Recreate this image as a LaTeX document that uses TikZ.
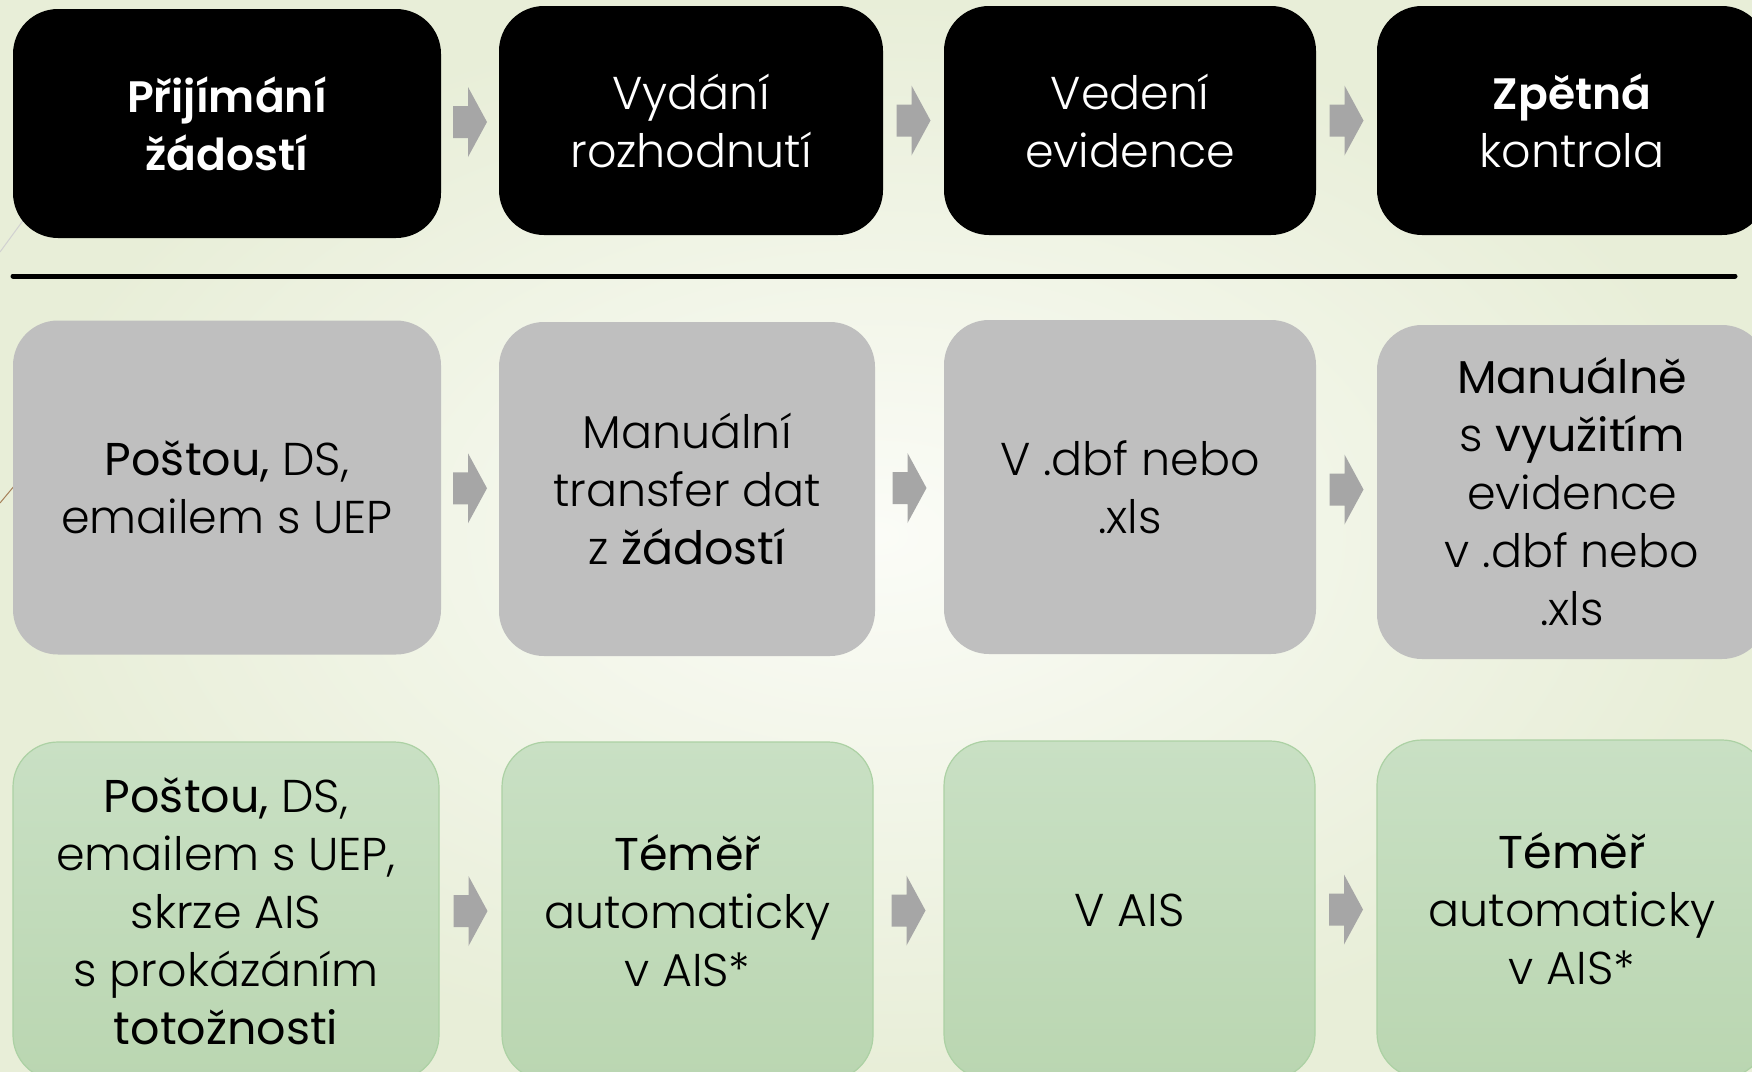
\documentclass[tikz,border=0pt]{standalone}
\usepackage{fontspec}
\setmainfont{Poppins}[UprightFont=* Light, BoldFont=* SemiBold]
\newfontfamily\altf{Poppins}
\usetikzlibrary{calc}
\definecolor{bgin}{HTML}{FBFCF7}
\definecolor{bgout}{HTML}{E8EED8}
\definecolor{boxgray}{HTML}{BFBFBF}
\definecolor{arrowgray}{HTML}{A6A6A6}
\definecolor{greentop}{HTML}{C9E0C4}
\definecolor{greenbot}{HTML}{BAD6B1}
\definecolor{greenline}{HTML}{ACD1A4}
\tikzset{
  box/.style={rounded corners=45pt, align=center, inner sep=0pt,
    font=\fontsize{46}{58}\selectfont},
  topbox/.style={box, fill=black, text=white, minimum height=229pt},
  graybox/.style={box, fill=boxgray, text=black, minimum height=334pt},
  greenbox/.style={box, top color=greentop, bottom color=greenbot,
    draw=greenline, line width=1.2pt, text=black, minimum height=338pt},
  divider/.style={line width=5pt, line cap=round, black},
  deco/.style={line width=1pt}
}
\newcommand{\boldw}[1]{{\fontsize{44}{58}\selectfont\bfseries #1}}
\newcommand{\flowarrow}[2]{%
  \path (#1.east) -- (#2.west) coordinate[pos=0.5] (m#1);
  \fill[arrowgray] ($(m#1)+(-17,-16)$) -- ($(m#1)+(-2,-16)$) -- ($(m#1)+(-2,-35)$)
    -- ($(m#1)+(17,0)$) -- ($(m#1)+(-2,35)$) -- ($(m#1)+(-2,16)$)
    -- ($(m#1)+(-17,16)$) -- cycle;}
\begin{document}
\begin{tikzpicture}[x=1pt,y=-1pt]
\useasboundingbox (0,0) rectangle (1752,1071);
\shade[inner color=bgin, outer color=bgout] (0,0) rectangle (1752,1071);
% theme decoration lines
\coordinate (d1a) at (0,252);
\coordinate (d1b) at (60,170);
\coordinate (d2a) at (0,503);
\coordinate (d2b) at (40,455);
\draw[deco, color=black!18] (d1a) -- (d1b);
\draw[deco, color=brown!60!gray] (d2a) -- (d2b);
% top row
\node[topbox, minimum width=428pt] (t1) at (227,123.5) {\boldw{Přijímání}\\\boldw{žádostí}};
\node[topbox, minimum width=384pt] (t2) at (691,120.5) {Vydání\\rozhodnutí};
\node[topbox, minimum width=372pt] (t3) at (1130,120.5) {Vedení\\evidence};
\node[topbox, minimum width=390pt] (t4) at (1572,120.5) {\boldw{Zpětná}\\kontrola};
\flowarrow{t1}{t2}
\flowarrow{t2}{t3}
\flowarrow{t3}{t4}
% divider
\coordinate (la) at (13,276);
\coordinate (lb) at (1735,276);
\draw[divider] (la) -- (lb);
% middle row
\node[graybox, minimum width=428pt] (m1) at (227,487.5) {{\altf Poštou,} DS,\\emailem s UEP};
\node[graybox, minimum width=376pt] (m2) at (687,489) {Manuální\\transfer dat\\z {\altf žádostí}};
\node[graybox, minimum width=372pt] (m3) at (1130,487) {V .dbf nebo\\.xls};
\node[graybox, minimum width=390pt] (m4) at (1572,492) {{\altf Manuálně}\\s {\altf využitím}\\evidence\\v .dbf nebo\\.xls};
\flowarrow{m1}{m2}
\flowarrow{m2}{m3}
\flowarrow{m3}{m4}
% bottom row
\node[greenbox, minimum width=426pt] (b1) at (226,911) {{\altf Poštou,} DS,\\emailem s UEP,\\skrze AIS\\s prokázáním\\{\altf totožnosti}};
\node[greenbox, minimum width=371pt] (b2) at (687.5,911) {{\altf Téměř}\\automaticky\\v AIS*};
\node[greenbox, minimum width=371pt] (b3) at (1129.5,910) {V AIS};
\node[greenbox, minimum width=390pt] (b4) at (1572,909) {{\altf Téměř}\\automaticky\\v AIS*};
\flowarrow{b1}{b2}
\flowarrow{b2}{b3}
\flowarrow{b3}{b4}
\end{tikzpicture}
\end{document}
